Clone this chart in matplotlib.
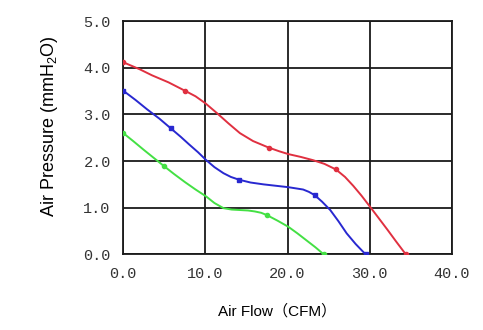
import matplotlib.pyplot as plt

plt.rcParams["mathtext.fontset"] = "custom"
plt.rcParams["mathtext.rm"] = "Liberation Sans"
plt.rcParams["mathtext.it"] = "Liberation Sans"

# curve traces (CFM, mmH2O)
RED_X = [0.0, 2.0, 3.5, 5.5, 7.5, 8.8, 10.0, 11.4, 12.8, 14.2, 15.8, 17.7, 19.0, 20.1,
         21.6, 23.1, 24.5, 25.9, 27.0, 28.0, 29.0, 30.05, 31.0, 32.2, 33.2, 34.4]
RED_Y = [4.12, 3.97, 3.84, 3.69, 3.51, 3.39, 3.24, 3.03, 2.81, 2.60, 2.43, 2.29, 2.21, 2.15,
         2.09, 2.02, 1.94, 1.82, 1.66, 1.47, 1.26, 1.02, 0.80, 0.52, 0.28, 0.0]
BLUE_X = [0.0, 1.5, 2.9, 4.4, 5.8, 7.0, 8.0, 9.1, 10.1, 11.1, 12.2, 13.1, 14.1, 15.5,
          17.1, 18.6, 20.1, 21.9, 22.6, 23.3, 24.2, 25.2, 26.2, 27.2, 28.3, 29.5]
BLUE_Y = [3.51, 3.31, 3.11, 2.91, 2.70, 2.52, 2.36, 2.19, 2.02, 1.87, 1.74, 1.66, 1.60, 1.54,
          1.50, 1.47, 1.44, 1.39, 1.34, 1.27, 1.13, 0.95, 0.71, 0.45, 0.22, 0.0]
GREEN_X = [0.0, 1.2, 2.5, 3.7, 4.9, 6.2, 7.5, 8.8, 10.1, 11.1, 12.2, 13.2, 14.2, 15.2,
           16.0, 16.8, 17.5, 18.8, 20.1, 21.2, 22.3, 23.4, 24.4]
GREEN_Y = [2.60, 2.43, 2.24, 2.07, 1.90, 1.72, 1.55, 1.39, 1.24, 1.10, 0.99, 0.96, 0.95, 0.94,
           0.92, 0.89, 0.84, 0.72, 0.59, 0.45, 0.30, 0.15, 0.0]

# marker points
RED_MX = [0.0, 7.5, 17.7, 25.9, 34.4]
RED_MY = [4.12, 3.51, 2.29, 1.82, 0.0]
BLUE_MX = [0.0, 5.8, 14.1, 23.3, 29.5]
BLUE_MY = [3.51, 2.70, 1.60, 1.27, 0.0]
GREEN_MX = [0.0, 4.9, 17.5, 24.4]
GREEN_MY = [2.60, 1.90, 0.84, 0.0]

X_TICKS = [0, 10, 20, 30, 40]
Y_TICKS = [0, 1, 2, 3, 4, 5]

fig = plt.figure(figsize=(4.83, 3.3), dpi=100)
ax = fig.add_axes([0.2553, 0.2294, 0.680, 0.7061])

for xs, ys, mx, my, color, marker, ms in [
    (RED_X, RED_Y, RED_MX, RED_MY, "#e03040", "o", 3),
    (BLUE_X, BLUE_Y, BLUE_MX, BLUE_MY, "#2828d0", "s", 3.5),
    (GREEN_X, GREEN_Y, GREEN_MX, GREEN_MY, "#44e044", "o", 3),
]:
    ax.plot(xs, ys, color=color, lw=1.4, solid_joinstyle="round", zorder=3)
    ax.plot(mx, my, ls="none", marker=marker, ms=ms, color=color, zorder=4)

ax.set_xlim(0, 40)
ax.set_ylim(0, 5)
ax.set_xticks(X_TICKS)
ax.set_yticks(Y_TICKS)
ax.set_xticklabels([f"{v:.1f}" for v in X_TICKS], family="Liberation Mono", fontsize=11, color="#333333")
ax.set_yticklabels([f"{v:.1f}" for v in Y_TICKS], family="Liberation Mono", fontsize=11, color="#333333")
ax.tick_params(length=0, pad=9)
ax.grid(True, color="#1a1a1a", lw=1.3)
for s in ax.spines.values():
    s.set_color("#1a1a1a")
    s.set_linewidth(1.3)

ax.set_xlabel("Air Flow（CFM）", family=["Liberation Sans", "Noto Sans CJK SC"], fontsize=11)
ax.set_ylabel("Air Pressure (mmH$_2$O)", family="Liberation Sans", fontsize=13)
ax.xaxis.set_label_coords(0.467, -0.215)
ax.yaxis.set_label_coords(-0.193, 0.55)

fig.savefig("out.png", dpi=100)
